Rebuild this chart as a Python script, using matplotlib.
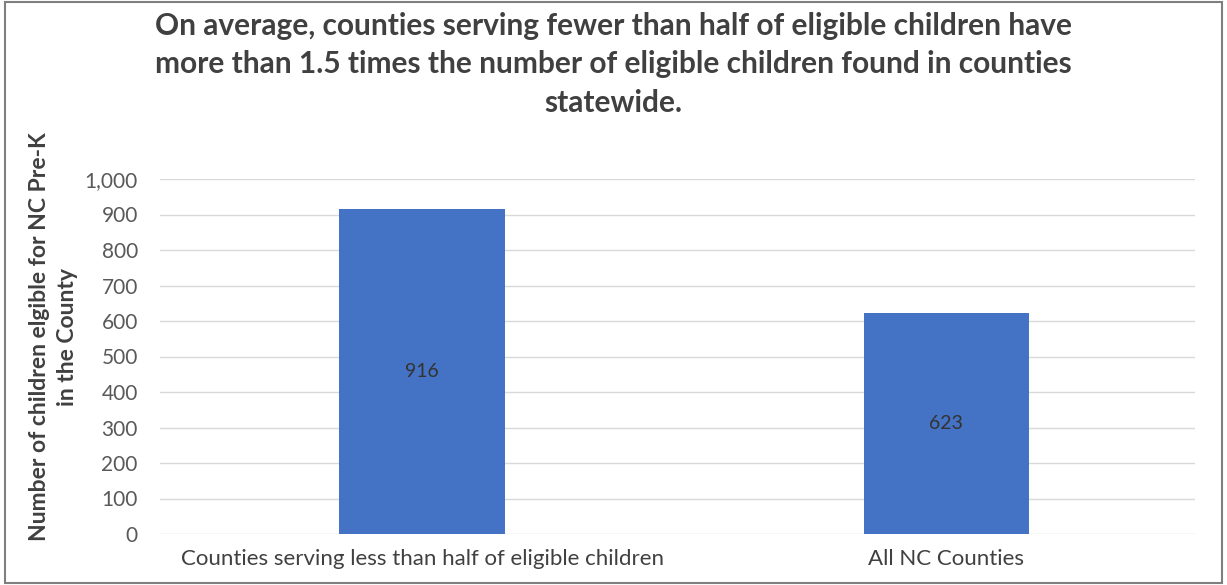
import matplotlib
matplotlib.use("Agg")
import matplotlib.pyplot as plt
from matplotlib.patches import Rectangle

categories = ["Counties serving less than half of eligible children", "All NC Counties"]
values = [916, 623]
yticks = [0, 100, 200, 300, 400, 500, 600, 700, 800, 900, 1000]

plt.rcParams['font.family'] = ['Lato', 'DejaVu Sans']

fig = plt.figure(figsize=(12.27, 5.85), dpi=100)
ax = fig.add_axes([160/1227, 1-534/585, 1035/1227, 355/585])

x = range(len(categories))
bars = ax.bar(x, values, width=0.315, color="#4472C4", zorder=3)
for xi, v in zip(x, values):
    ax.text(xi, v/2, f"{v:,}", ha="center", va="center", fontsize=14, color="#333333", zorder=4)

ax.set_xlim(-0.5, 1.475)
ax.set_ylim(0, 1000)
ax.set_yticks(yticks)
ax.set_yticklabels([f"{t:,}" for t in yticks], fontsize=15, color="#595959")
ax.set_xticks(list(x))
ax.set_xticklabels(categories, fontsize=16, color="#404040")
ax.tick_params(length=0, pad=16)
ax.tick_params(axis='x', pad=11)
ax.grid(axis="y", color="#d9d9d9", linewidth=1, zorder=0)
for s in ax.spines.values():
    s.set_visible(False)

ax.set_ylabel("Number of children elgible for NC Pre-K\nin the County", fontsize=16.5,
              fontweight="bold", color="#404040", linespacing=1.4)
ax.yaxis.set_label_coords(-82/1035, 0.555)

fig.text(0.5, 1-12/585,
         "On average, counties serving fewer than half of eligible children have\n"
         "more than 1.5 times the number of eligible children found in counties\n"
         "statewide.", ha="center", va="top", fontsize=21.5, fontweight="bold",
         color="#404040", linespacing=1.45)

fig.patches.append(Rectangle((0.004, 0.004), 0.992, 0.992, transform=fig.transFigure,
                             fill=False, edgecolor="#7f7f7f", linewidth=1.5))

fig.savefig("out.png", dpi=100, facecolor="white")
